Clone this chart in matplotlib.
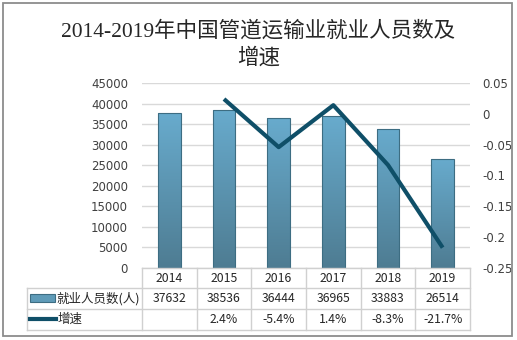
import numpy as np
import matplotlib.pyplot as plt
from matplotlib.colors import LinearSegmentedColormap

years = ['2014', '2015', '2016', '2017', '2018', '2019']
employees = [37632, 38536, 36444, 36965, 33883, 26514]
growth = [None, 0.024, -0.054, 0.014, -0.083, -0.217]
growth_labels = ['', '2.4%', '-5.4%', '1.4%', '-8.3%', '-21.7%']
bar_name = '就业人员数(人)'
line_name = '增速'

W, H = 517, 340
fig = plt.figure(figsize=(W / 100, H / 100), dpi=100)
cjk = ['Noto Sans CJK SC', 'DejaVu Sans']
txt_color = '#404040'

# outer frame
fig.add_artist(plt.Rectangle((3 / W, 4 / H), 509 / W, 333 / H, transform=fig.transFigure,
                             fill=False, edgecolor='#8c8c8c', linewidth=1.3))

title_font = ['Liberation Serif', 'Noto Sans CJK SC']
fig.text(0.5, 1 - 31 / H, '2014-2019年中国管道运输业就业人员数及', ha='center', va='center',
         fontsize=15.5, family=title_font, color='#262626')
fig.text(0.5, 1 - 58 / H, '增速', ha='center', va='center',
         fontsize=15.5, family=title_font, color='#262626')

x0, x1, y0, y1 = 142, 470, 268, 83
ax = fig.add_axes([x0 / W, 1 - y0 / H, (x1 - x0) / W, (y0 - y1) / H])
ax2 = ax.twinx()

x = np.arange(len(years))
ax.set_yticks(range(0, 45001, 5000))
ax.yaxis.grid(True, color='#d9d9d9', linewidth=1)
ax.set_axisbelow(True)
ax.set_xticks([])
for a in (ax, ax2):
    for s in a.spines.values():
        s.set_visible(False)
ax.tick_params(axis='y', length=0, pad=10, labelsize=8.5, labelcolor=txt_color)

# bars with vertical gradient
cmap = LinearSegmentedColormap.from_list('bar', ['#4e7c92', '#68abcd'])
grad = np.linspace(0, 1, 256).reshape(-1, 1)
bars = ax.bar(x, employees, width=0.42, color='none', edgecolor='#3d6d82', linewidth=0.8, zorder=2)
for b in bars:
    bx, by, bw, bh = b.get_x(), b.get_y(), b.get_width(), b.get_height()
    im = ax.imshow(grad, cmap=cmap, origin='lower', aspect='auto',
                   extent=(bx, bx + bw, by, by + bh), zorder=1.5)
    im.set_clip_path(b)
ax.set_xlim(-0.5, len(years) - 0.5)
ax.set_ylim(0, 45000)

gx = [i for i, g in enumerate(growth) if g is not None]
gy = [g for g in growth if g is not None]
ax2.set_ylim(-0.25, 0.05)
ax2.set_yticks([0.05, 0, -0.05, -0.1, -0.15, -0.2, -0.25])
ax2.set_yticklabels(['0.05', '0', '-0.05', '-0.1', '-0.15', '-0.2', '-0.25'])
ax2.tick_params(axis='y', length=0, pad=9, labelsize=8.5, labelcolor=txt_color)
ax2.plot(gx, gy, color='#0f4f68', linewidth=3, solid_capstyle='butt', zorder=3)

# data table below the axes
line_kw = dict(color='#d0d0d0', linewidth=1, transform=fig.transFigure)
rows_y = [268, 288, 309, 330]
col_x = np.linspace(x0, x1, len(years) + 1)
left = 27
fig.add_artist(plt.Line2D([x0 / W, x1 / W], [1 - rows_y[0] / H] * 2, **line_kw))
for ry in rows_y[1:]:
    fig.add_artist(plt.Line2D([left / W, x1 / W], [1 - ry / H] * 2, **line_kw))
for cx in col_x:
    fig.add_artist(plt.Line2D([cx / W] * 2, [1 - rows_y[0] / H, 1 - rows_y[-1] / H], **line_kw))
fig.add_artist(plt.Line2D([left / W] * 2, [1 - rows_y[1] / H, 1 - rows_y[-1] / H], **line_kw))

centers = (col_x[:-1] + col_x[1:]) / 2
row_mid = [(rows_y[i] + rows_y[i + 1]) / 2 for i in range(3)]
tkw = dict(ha='center', va='center', fontsize=8.8, color='#262626', family=cjk)
for cx, yr, v, g in zip(centers, years, employees, growth_labels):
    fig.text(cx / W, 1 - row_mid[0] / H, yr, **tkw)
    fig.text(cx / W, 1 - row_mid[1] / H, str(v), **tkw)
    fig.text(cx / W, 1 - row_mid[2] / H, g, **tkw)

# legend keys inside the table
fig.add_artist(plt.Rectangle((30 / W, 1 - 302 / H), 25 / W, 8 / H, transform=fig.transFigure,
                             facecolor='#5f9bb8', edgecolor='#3d6d82', linewidth=0.8))
fig.text(56 / W, 1 - row_mid[1] / H, bar_name, ha='left', va='center', fontsize=9,
         color='#262626', family=cjk)
fig.add_artist(plt.Line2D([30 / W, 56 / W], [1 - 319 / H] * 2, color='#0f4f68', linewidth=3,
                          transform=fig.transFigure))
fig.text(58 / W, 1 - row_mid[2] / H, line_name, ha='left', va='center', fontsize=9,
         color='#262626', family=cjk)

fig.savefig('out.png', dpi=100)
